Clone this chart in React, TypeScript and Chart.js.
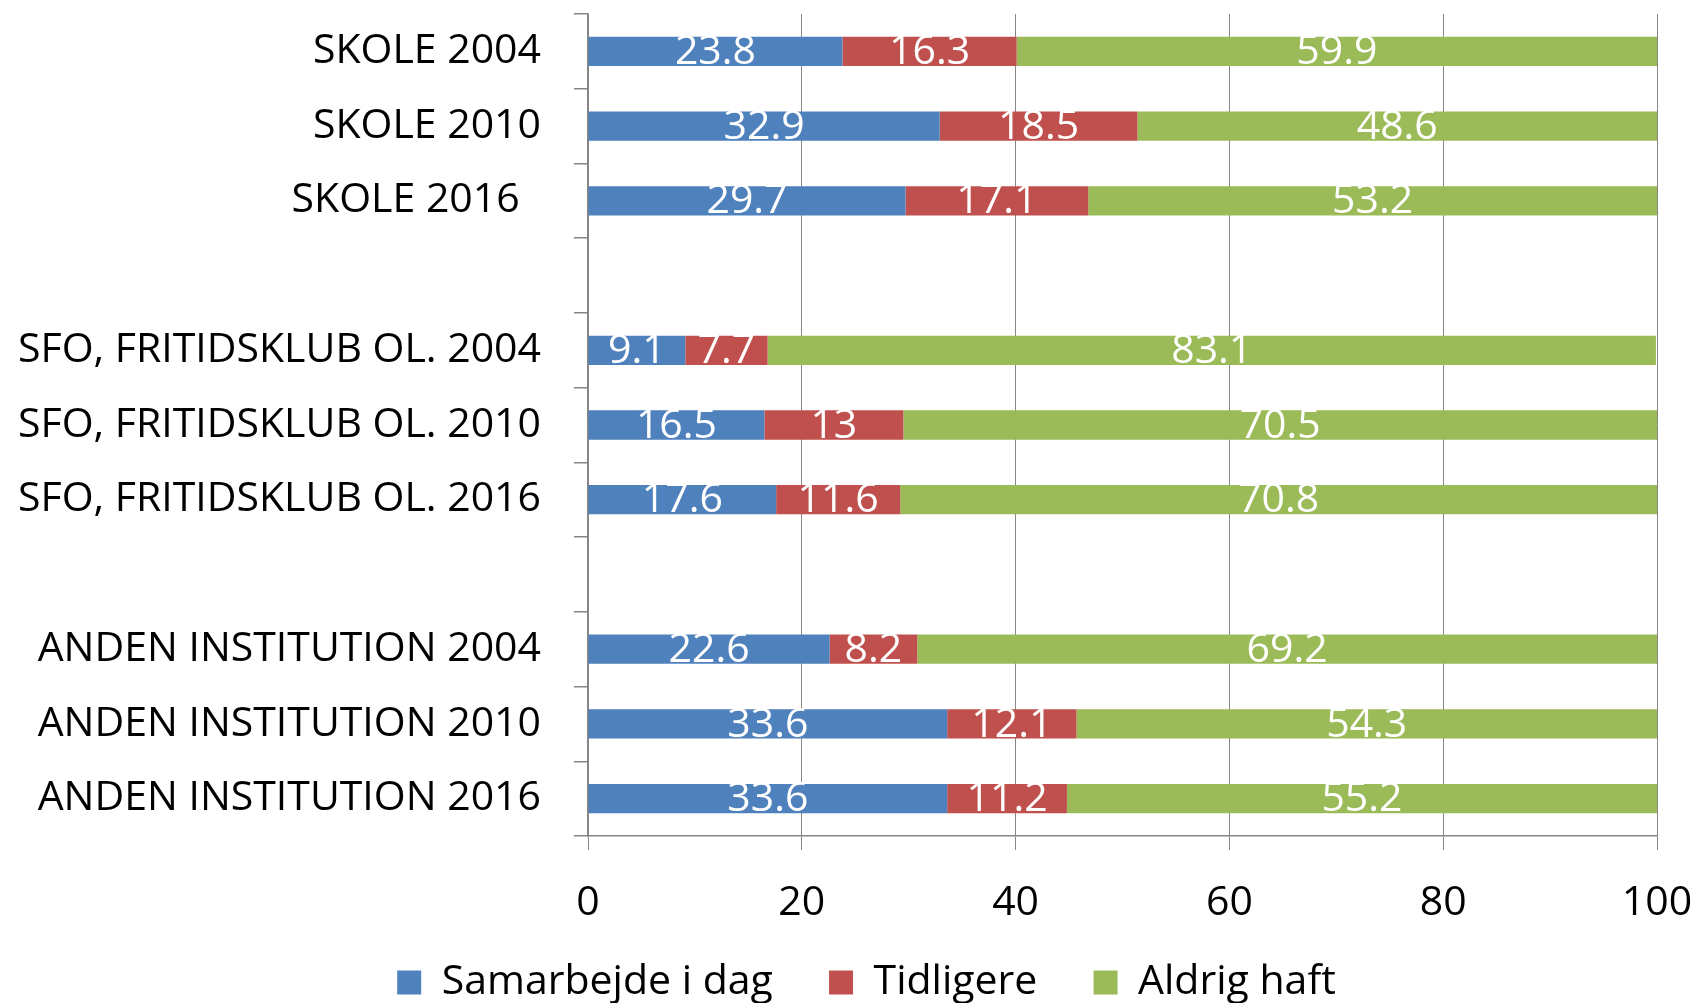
import React, { useEffect, useRef } from 'react';
import { Chart, registerables } from 'chart.js';

Chart.register(...registerables);

const categories = [
  'SKOLE 2004',
  'SKOLE 2010',
  'SKOLE 2016  ',
  '',
  'SFO, FRITIDSKLUB OL. 2004',
  'SFO, FRITIDSKLUB OL. 2010',
  'SFO, FRITIDSKLUB OL. 2016',
  '',
  'ANDEN INSTITUTION 2004',
  'ANDEN INSTITUTION 2010',
  'ANDEN INSTITUTION 2016',
];
const samarbejde = [23.8, 32.9, 29.7, null, 9.1, 16.5, 17.6, null, 22.6, 33.6, 33.6];
const tidligere = [16.3, 18.5, 17.1, null, 7.7, 13, 11.6, null, 8.2, 12.1, 11.2];
const aldrig = [59.9, 48.6, 53.2, null, 83.1, 70.5, 70.8, null, 69.2, 54.3, 55.2];
const seriesNames = ['Samarbejde i dag', 'Tidligere', 'Aldrig haft'];
const seriesColors = ['#4F81BD', '#C0504D', '#9BBB59'];
const xTicks = [0, 20, 40, 60, 80, 100];

const FONT = 'Open Sans';
const FS = 41;
const GRID = '#868686';
const LEGEND_GAP = '     ';
const LEGEND_SHIFT_X = 38;
const LEGEND_SHIFT_Y = 2;

const labelPlugin = {
  id: 'barLabels',
  afterDatasetsDraw(chart: any) {
    const ctx = chart.ctx;
    ctx.save();
    ctx.font = `${FS}px "${FONT}"`;
    ctx.fillStyle = '#ffffff';
    ctx.textAlign = 'center';
    ctx.textBaseline = 'middle';
    chart.data.datasets.forEach((ds: any, i: number) => {
      const meta = chart.getDatasetMeta(i);
      meta.data.forEach((el: any, j: number) => {
        const v = ds.data[j];
        if (v == null) return;
        const p = el.getProps(['x', 'base', 'y'], true);
        ctx.fillText(String(v), (p.x + p.base) / 2, p.y + 1);
      });
    });
    ctx.restore();
  },
};

const legendShiftPlugin = {
  id: 'legendShift',
  afterLayout(chart: any) {
    if (chart.legend) {
      chart.legend.left += LEGEND_SHIFT_X;
      chart.legend.right += LEGEND_SHIFT_X;
      chart.legend.top += LEGEND_SHIFT_Y;
      chart.legend.bottom += LEGEND_SHIFT_Y;
    }
  },
};

export default function App() {
  const ref = useRef<HTMLCanvasElement | null>(null);
  useEffect(() => {
    if (!ref.current) return;
    Chart.defaults.font.family = FONT;
    const data = [samarbejde, tidligere, aldrig];
    const defaultGen = Chart.defaults.plugins.legend.labels.generateLabels;
    const chart = new Chart(ref.current, {
      type: 'bar',
      data: {
        labels: categories,
        datasets: data.map((d, i) => ({
          label: seriesNames[i],
          data: d,
          backgroundColor: seriesColors[i],
          borderWidth: 0,
          barPercentage: 0.392,
          categoryPercentage: 1,
        })),
      },
      options: {
        indexAxis: 'y',
        animation: false,
        responsive: true,
        maintainAspectRatio: false,
        layout: { padding: { top: 14, right: 41, left: 0, bottom: 0 } },
        plugins: {
          tooltip: { enabled: false },
          legend: {
            position: 'bottom',
            labels: {
              font: { size: FS, family: FONT },
              color: '#000',
              boxWidth: 24,
              boxHeight: 24,
              padding: 3,
              generateLabels: (c: any) => {
                const items = defaultGen(c);
                return items.map((it: any, k: number) => ({
                  ...it,
                  text: k < items.length - 1 ? it.text + LEGEND_GAP : it.text,
                }));
              },
            },
          },
        },
        scales: {
          x: {
            stacked: true,
            min: 0,
            max: 100,
            afterBuildTicks: (s: any) => {
              s.ticks = xTicks.map((v) => ({ value: v }));
            },
            afterFit: (s: any) => {
              s.height = 121;
              s.paddingLeft = 0;
              s.paddingRight = 0;
            },
            grid: {
              color: GRID,
              lineWidth: 1,
              drawTicks: true,
              tickLength: 14,
              tickColor: GRID,
            },
            border: { display: true, color: GRID, width: 1.5 },
            ticks: {
              font: { size: FS, family: FONT },
              color: '#000',
              padding: 29,
              maxRotation: 0,
            },
          },
          y: {
            stacked: true,
            afterFit: (s: any) => {
              s.width = 588;
              s.paddingTop = 0;
              s.paddingBottom = 0;
            },
            grid: {
              offset: true,
              drawOnChartArea: false,
              drawTicks: true,
              tickLength: 14,
              color: GRID,
              tickColor: GRID,
              lineWidth: 1.5,
            },
            border: { display: true, color: GRID, width: 1.5 },
            ticks: {
              font: { size: FS, family: FONT },
              color: '#000',
              padding: 33,
              autoSkip: false,
            },
          },
        },
      },
      plugins: [labelPlugin, legendShiftPlugin],
    });
    return () => chart.destroy();
  }, []);
  return (
    <div style={{ position: 'fixed', left: 0, top: 0, width: 1698, height: 1003, overflow: 'hidden', background: '#fff' }}>
      <div style={{ position: 'relative', width: 1698, height: 1011 }}>
        <canvas ref={ref} />
      </div>
    </div>
  );
}
